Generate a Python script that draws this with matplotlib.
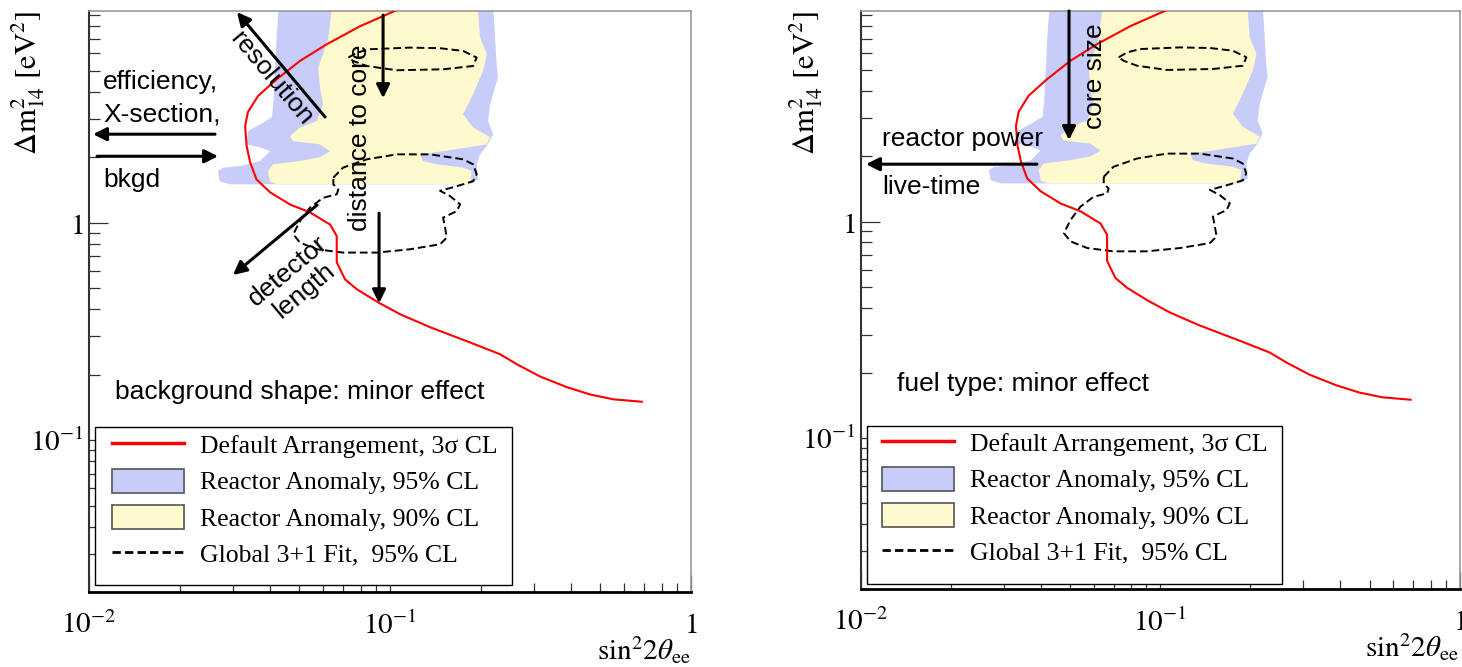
import numpy as np
import matplotlib
matplotlib.use('Agg')
import matplotlib.pyplot as plt
from matplotlib.lines import Line2D
from matplotlib.patches import Patch, Rectangle
from matplotlib.ticker import LogLocator, NullFormatter

plt.rcParams['mathtext.fontset'] = 'stix'
plt.rcParams['font.family'] = ['Liberation Sans', 'DejaVu Sans']

# sensitivity curve, default arrangement (x = sin^2 2theta_ee, y = dm^2_14 [eV^2])
red_x = [0.1053, 0.0795, 0.0616, 0.0502, 0.0420, 0.0364, 0.0337, 0.0330, 0.0334,
         0.0343, 0.0360, 0.0399, 0.0466, 0.0542, 0.0616, 0.0632, 0.0665, 0.0665,
         0.0709, 0.0775, 0.0912, 0.108, 0.136, 0.1845, 0.232, 0.264, 0.315,
         0.387, 0.462, 0.551, 0.686]
red_y = [9.5, 8.0, 6.61, 5.54, 4.56, 3.82, 3.22, 2.77, 2.24,
         1.89, 1.58, 1.38, 1.21, 1.115, 1.0, 0.98, 0.868, 0.657,
         0.548, 0.494, 0.430, 0.379, 0.330, 0.281, 0.248, 0.223, 0.196,
         0.175, 0.162, 0.154, 0.150]

# reactor anomaly 95% CL
blue_x = [0.0426, 0.0420, 0.0415, 0.0410, 0.0405, 0.0370, 0.0338, 0.0334, 0.0370,
          0.0399, 0.0370, 0.0318, 0.0279, 0.0268, 0.0272, 0.0294, 0.1845, 0.196,
          0.194, 0.199, 0.2096, 0.220, 0.2116, 0.215, 0.2233, 0.2285, 0.226,
          0.2233, 0.2204]
blue_y = [9.5, 7.12, 4.98, 3.62, 3.05, 2.83, 2.64, 2.29, 2.22,
          2.13, 1.92, 1.82, 1.79, 1.73, 1.55, 1.50, 1.50, 1.58,
          1.854, 2.06, 2.25, 2.55, 2.93, 3.50, 4.19, 4.66, 5.35,
          7.12, 9.5]

# reactor anomaly 90% CL
yellow_x = [0.0640, 0.0624, 0.0599, 0.0577, 0.0585, 0.0599, 0.0571, 0.0502, 0.0465,
            0.0476, 0.0585, 0.0632, 0.0585, 0.0502, 0.0409, 0.0393, 0.0399, 0.0420,
            0.1845, 0.1868, 0.1748, 0.1429, 0.1287, 0.1258, 0.150, 0.2096, 0.215,
            0.1887, 0.1748, 0.1887, 0.2037, 0.2096, 0.199, 0.196]
yellow_y = [9.5, 7.12, 5.95, 5.18, 4.19, 3.50, 2.93, 2.74, 2.50,
            2.37, 2.29, 2.13, 2.00, 1.92, 1.854, 1.73, 1.55, 1.50,
            1.50, 1.73, 1.79, 1.854, 1.92, 2.06, 2.13, 2.29, 2.47,
            2.74, 3.15, 3.89, 4.98, 5.95, 7.12, 9.5]

# global 3+1 fit 95% CL, two islands
glob_hi_x = [0.0727, 0.0775, 0.0858, 0.1165, 0.1466, 0.1748, 0.1940, 0.1887,
             0.150, 0.1053, 0.0837, 0.0754, 0.0727]
glob_hi_y = [5.74, 6.05, 6.27, 6.38, 6.34, 6.16, 5.74, 5.25,
             5.07, 5.02, 5.25, 5.54, 5.74]
glob_lo_x = [0.0648, 0.0698, 0.0837, 0.1053, 0.1358, 0.1748, 0.1887, 0.194,
             0.1887, 0.1666, 0.1466, 0.158, 0.1709, 0.1666, 0.150, 0.1523,
             0.1543, 0.1466, 0.1165, 0.0903, 0.0698, 0.0571, 0.0502, 0.0477,
             0.0502, 0.0542, 0.0599, 0.0665, 0.0673, 0.0648, 0.0648]
glob_lo_y = [1.61, 1.79, 1.955, 2.06, 2.06, 1.955, 1.854, 1.67,
             1.55, 1.47, 1.40, 1.326, 1.214, 1.13, 1.054, 0.948,
             0.853, 0.795, 0.754, 0.728, 0.728, 0.754, 0.809, 0.884,
             1.017, 1.172, 1.30, 1.35, 1.42, 1.50, 1.61]

legend_labels = ['Default Arrangement, 3\u03c3 CL', 'Reactor Anomaly, 95% CL',
                 'Reactor Anomaly, 90% CL', 'Global 3+1 Fit,  95% CL']

BLUE = '#c8ccf8'
YELLOW = '#fffacd'
FS = 19


def setup_axes(ax, ylab_x):
    ax.set_xscale('log')
    ax.set_yscale('log')
    ax.set_xlim(0.01, 1)
    ax.set_ylim(0.02, 9.4)
    ax.set_xticks([0.01, 0.1, 1], labels=[r'$10^{-2}$', r'$10^{-1}$', r'$1$'])
    ax.set_yticks([0.1, 1], labels=[r'$10^{-1}$', r'$1$'])
    for axis in (ax.xaxis, ax.yaxis):
        axis.set_minor_locator(LogLocator(base=10, subs=np.arange(2, 10), numticks=20))
        axis.set_minor_formatter(NullFormatter())
    ax.tick_params(which='both', direction='in', top=False, right=False,
                   labelsize=21, width=0.9, color='#333333')
    ax.tick_params(axis='y', which='major', length=13.7, pad=4)
    ax.tick_params(axis='y', which='minor', length=7.7)
    ax.tick_params(axis='x', which='major', length=12, pad=14)
    ax.tick_params(axis='x', which='minor', length=6.7)
    ax.spines['left'].set(lw=1.5, color='#333333')
    ax.spines['bottom'].set(lw=2.0, color='black')
    ax.spines['top'].set(lw=1.2, color='#999999')
    ax.spines['right'].set(lw=1.2, color='#999999')

    ax.set_xlabel(r'$\mathrm{sin}^{2}2\theta_{\mathrm{ee}}$', fontsize=21, loc='right')
    ax.xaxis.set_label_coords(1.0, -0.073)
    ax.set_ylabel(r'$\Delta\mathrm{m}^{2}_{14}\ [\mathrm{eV}^{2}]$', fontsize=22, loc='top')
    ax.yaxis.set_label_coords(ylab_x, 1.0)

    ax.fill(blue_x, blue_y, color=BLUE, lw=0, zorder=1)
    ax.fill(yellow_x, yellow_y, color=YELLOW, lw=0, zorder=2)
    ax.plot(glob_hi_x, glob_hi_y, color='black', lw=1.4, ls=(0, (4, 2)), zorder=3)
    ax.plot(glob_lo_x, glob_lo_y, color='black', lw=1.4, ls=(0, (4, 2)), zorder=3)
    ax.plot(red_x, red_y, color='red', lw=1.5, zorder=3)


def draw_legend(ax, box, anchor):
    frame = Rectangle((box[0], box[1]), box[2], box[3], transform=ax.transAxes,
                      facecolor='white', edgecolor='black', lw=1.0, zorder=6)
    ax.add_patch(frame)
    handles = [Line2D([], [], color='red', lw=2.5),
               Patch(facecolor=BLUE, edgecolor='#555555', lw=1.2),
               Patch(facecolor=YELLOW, edgecolor='#555555', lw=1.2),
               Line2D([], [], color='black', lw=2, ls=(0, (3, 1.5)))]
    leg = ax.legend(handles, legend_labels, loc='upper left', bbox_to_anchor=anchor,
                    frameon=False, borderpad=0, borderaxespad=0, handlelength=2.8,
                    handleheight=1.05, handletextpad=0.62, labelspacing=0.41,
                    prop={'family': 'Liberation Serif', 'size': 18.5})
    leg.set_zorder(7)


def arrow(ax, tail, head):
    ax.annotate('', xy=head, xytext=tail, xycoords='axes fraction',
                textcoords='axes fraction',
                arrowprops=dict(arrowstyle='-|>', color='black', lw=2.2,
                                shrinkA=0, shrinkB=0, mutation_scale=20),
                zorder=5)


def note(ax, x, y, s, **kw):
    kw.setdefault('ha', 'left')
    kw.setdefault('va', 'center')
    ax.text(x, y, s, transform=ax.transAxes, fontsize=FS, zorder=5, **kw)


fig = plt.figure(figsize=(14.62, 6.67), dpi=100)
ax1 = fig.add_axes([0.0609, 0.1124, 0.4118, 0.8711])
ax2 = fig.add_axes([0.5887, 0.1169, 0.4097, 0.8666])

# left panel: detector-side parameters
setup_axes(ax1, -0.07)
note(ax1, 0.0233, 0.877, 'efficiency,')
note(ax1, 0.0233, 0.822, 'X-section,')
arrow(ax1, (0.2093, 0.788), (0.0066, 0.788))
arrow(ax1, (0.0133, 0.750), (0.2143, 0.750))
note(ax1, 0.0233, 0.710, 'bkgd')
arrow(ax1, (0.392, 0.8176), (0.2458, 0.998))
note(ax1, 0.3032, 0.8847, 'resolution', ha='center', rotation=-50)
note(ax1, 0.450, 0.7814, 'distance to core', ha='center', rotation=90)
arrow(ax1, (0.4884, 0.993), (0.4884, 0.850))
arrow(ax1, (0.4817, 0.652), (0.4817, 0.497))
arrow(ax1, (0.3787, 0.666), (0.2392, 0.5456))
note(ax1, 0.344, 0.535, 'detector\nlength', ha='center', rotation=40,
     multialignment='center', linespacing=1.1)
note(ax1, 0.0432, 0.344, 'background shape: minor effect')
draw_legend(ax1, (0.00997, 0.012, 0.6927, 0.272), (0.0382, 0.2745))

# right panel: reactor-side parameters
setup_axes(ax2, -0.06)
note(ax2, 0.391, 0.8875, 'core size', ha='center', rotation=90)
arrow(ax2, (0.3478, 1.0), (0.3478, 0.7768))
note(ax2, 0.0356, 0.7785, 'reactor power')
arrow(ax2, (0.2943, 0.735), (0.0088, 0.735))
note(ax2, 0.0356, 0.6955, 'live-time')
note(ax2, 0.0606, 0.3547, 'fuel type: minor effect')
draw_legend(ax2, (0.0105, 0.00865, 0.6928, 0.2734), (0.0356, 0.2742))

fig.savefig('out.png', dpi=100)
